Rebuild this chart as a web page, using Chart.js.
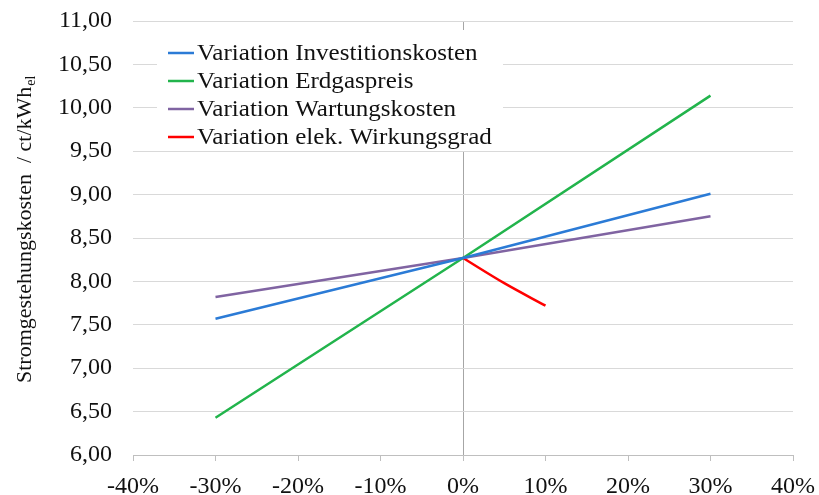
<!DOCTYPE html>
<html><head><meta charset="utf-8">
<script src="https://cdn.jsdelivr.net/npm/chart.js@4"></script>
<style>html,body{margin:0;padding:0;background:#fff}</style>
</head><body>
<canvas id="c" width="819" height="495" style="width:819px;height:495px;display:block"></canvas>
<script>
const seriesNames = ['Variation Investitionskosten','Variation Erdgaspreis','Variation Wartungskosten','Variation elek. Wirkungsgrad'];
const seriesColors = ['#2B7BD6','#22B44C','#8064A2','#FF0000'];
const xInvest = [-30, 0, 30];
const yInvest = [7.57, 8.27, 9.01];
const xGas = [-30, 0, 30];
const yGas = [6.43, 8.27, 10.14];
const xWartung = [-30, 0, 30];
const yWartung = [7.82, 8.27, 8.75];
const xEta = [0, 5, 10];
const yEta = [8.27, 7.98, 7.72];
const xTicks = [-40, -30, -20, -10, 0, 10, 20, 30, 40];
const yMin = 6, yMax = 11, yStep = 0.5;
const yTitle = 'Stromgestehungskosten  / ct/kWh';
const yTitleSub = 'el';

const xs = [xInvest, xGas, xWartung, xEta];
const ys = [yInvest, yGas, yWartung, yEta];
const datasets = seriesNames.map((n, i) => ({
  label: n,
  data: xs[i].map((x, j) => ({x: x, y: ys[i][j]})),
  borderColor: seriesColors[i],
  backgroundColor: seriesColors[i],
  borderWidth: 2.5,
  pointRadius: 0,
  cubicInterpolationMode: i === 3 ? 'monotone' : 'default',
  tension: 0,
  fill: false
}));

const FONT = '"Liberation Serif", "Times New Roman", serif';

const deco = {
  id: 'deco',
  afterDraw(chart) {
    const ctx = chart.ctx;
    // legend
    ctx.save();
    ctx.fillStyle = '#fff';
    ctx.fillRect(157, 30, 346, 121);
    const rows = [53, 81, 109, 137];
    seriesNames.forEach((n, i) => {
      ctx.strokeStyle = seriesColors[i];
      ctx.lineWidth = 2.5;
      ctx.beginPath();
      ctx.moveTo(168, rows[i]);
      ctx.lineTo(194, rows[i]);
      ctx.stroke();
      ctx.save();
      ctx.translate(197, rows[i]);
      ctx.scale(1.09, 1);
      ctx.fillStyle = '#111';
      ctx.font = '23px ' + FONT;
      ctx.textBaseline = 'middle';
      ctx.textAlign = 'left';
      ctx.fillText(n, 0, 1);
      ctx.restore();
    });
    ctx.restore();
    // y title
    ctx.save();
    ctx.translate(31, 383);
    ctx.rotate(-Math.PI / 2);
    ctx.fillStyle = '#111';
    ctx.font = '22px ' + FONT;
    ctx.textBaseline = 'alphabetic';
    ctx.textAlign = 'left';
    ctx.fillText(yTitle, 0, 0);
    const w = ctx.measureText(yTitle).width;
    ctx.font = '14px ' + FONT;
    ctx.fillText(yTitleSub, w + 1, 4);
    ctx.restore();
  }
};

new Chart(document.getElementById('c'), {
  type: 'line',
  data: {datasets},
  plugins: [deco],
  options: {
    responsive: false,
    animation: false,
    devicePixelRatio: 1,
    layout: {padding: {left: 0, right: 26, top: 21, bottom: 0}},
    plugins: {legend: {display: false}, tooltip: {enabled: false}},
    scales: {
      x: {
        type: 'linear',
        min: -40, max: 40,
        afterBuildTicks: s => { s.ticks = xTicks.map(v => ({value: v})); },
        afterFit: s => { s.height = 40; s.paddingLeft = 0; s.paddingRight = 0; s.paddingTop = 0; s.paddingBottom = 0; },
        border: {display: true, color: '#bfbfbf', width: 1},
        grid: {
          drawOnChartArea: true,
          color: c => (c.tick && c.tick.value === 0) ? '#a6a6a6' : 'rgba(0,0,0,0)',
          tickColor: '#bfbfbf',
          tickLength: 6,
          lineWidth: 1
        },
        ticks: {
          color: '#111',
          font: {family: FONT, size: 24},
          padding: 11,
          maxRotation: 0,
          autoSkip: false,
          callback: v => v + '%'
        }
      },
      y: {
        min: yMin, max: yMax,
        afterFit: s => { s.width = 133; s.paddingTop = 0; s.paddingBottom = 0; },
        border: {display: false},
        grid: {color: '#d9d9d9', lineWidth: 1, drawTicks: false},
        ticks: {
          stepSize: yStep,
          color: '#111',
          font: {family: FONT, size: 24},
          padding: 21,
          callback: v => v.toFixed(2).replace('.', ',')
        }
      }
    }
  }
});
</script>
</body></html>
